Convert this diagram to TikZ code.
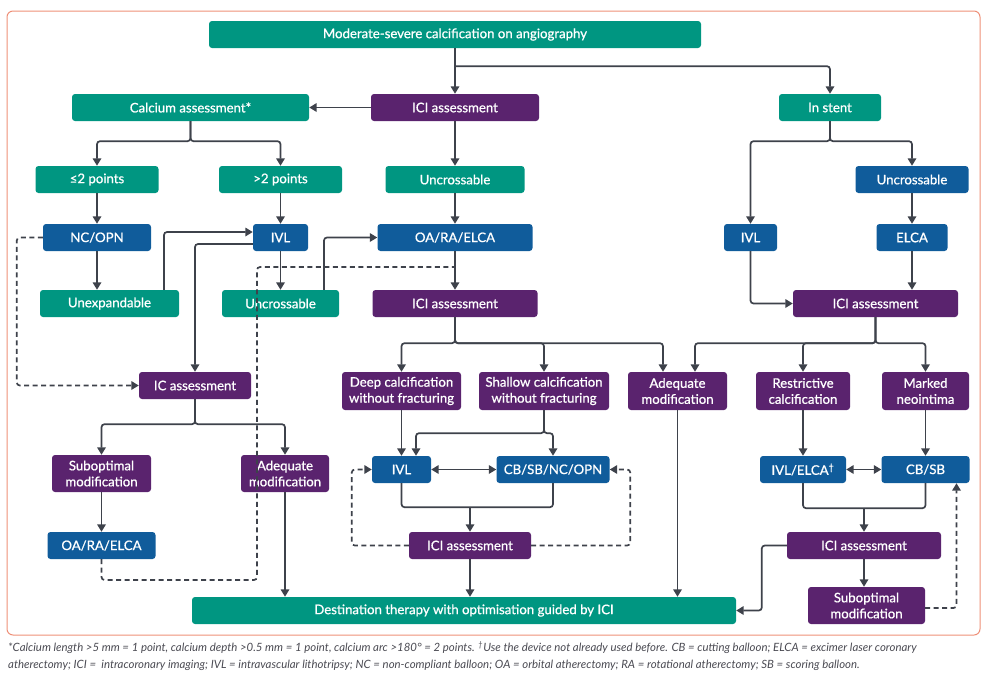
\documentclass[tikz,border=0pt]{standalone}
\usepackage{fontspec}
\setmainfont{Lato}
\newfontfamily\boxfont{Lato}[FakeBold=0.8]
\usepackage{tikz}
\usetikzlibrary{arrows.meta}
\definecolor{tealbox}{HTML}{009681}
\definecolor{purplebox}{HTML}{5A236E}
\definecolor{bluebox}{HTML}{105C9B}
\definecolor{linegray}{HTML}{3E424B}
\definecolor{framecol}{HTML}{EE9078}
\definecolor{notegray}{HTML}{4A4A52}

\begin{document}
\begin{tikzpicture}[x=1pt,y=-1pt,
  box/.style={rounded corners=3pt,minimum height=27pt,inner sep=0pt,align=center,text=white,font=\boxfont\fontsize{13.2}{16}\selectfont},
  tbox/.style={box,fill=tealbox},
  pbox/.style={box,fill=purplebox},
  bbox/.style={box,fill=bluebox},
  arr/.style={draw=linegray,line width=1.7pt,rounded corners=3pt,-{Triangle[length=7.5pt,width=8.5pt]}},
  arrb/.style={draw=linegray,line width=1.7pt,{Triangle[length=7.5pt,width=8.5pt]}-{Triangle[length=7.5pt,width=8.5pt]}},
  lin/.style={draw=linegray,line width=1.7pt,rounded corners=3pt},
  dsh/.style={draw=linegray,line width=1.7pt,rounded corners=3pt,dash pattern=on 5pt off 3.5pt}]
\useasboundingbox (0,0) rectangle (989,681);
\draw[framecol,line width=1pt,rounded corners=6pt] (7,11) rectangle (980,635);

% top rows
\node[tbox,minimum width=492pt] (top) at (455,34.5) {Moderate-severe calcification on angiography};
\node[pbox,minimum width=168pt] (ici1) at (455,107.5) {ICI assessment};
\node[tbox,minimum width=237pt] (calc) at (190.5,107.5) {Calcium assessment*};
\node[tbox,minimum width=102pt] (stent) at (830,107.5) {In stent};
\node[tbox,minimum width=123pt] (le2) at (97,179.5) {≤2 points};
\node[tbox,minimum width=123pt] (gt2) at (280.5,179.5) {>2 points};
\node[tbox,minimum width=139pt] (unc1) at (455,179.5) {Uncrossable};
\node[bbox,minimum width=113pt] (unc2) at (912,179.5) {Uncrossable};
\node[bbox,minimum width=108pt] (ncopn) at (97,237.5) {NC/OPN};
\node[bbox,minimum width=55pt] (ivl1) at (280.5,237.5) {IVL};
\node[bbox,minimum width=155pt] (oa1) at (455,237.5) {OA/RA/ELCA};
\node[bbox,minimum width=53pt] (ivl2) at (750.5,237.5) {IVL};
\node[bbox,minimum width=71pt] (elca) at (912,237.5) {ELCA};
\node[tbox,minimum width=139pt] (unexp) at (109.5,303.5) {Unexpandable};
\node[tbox,minimum width=117pt] (unc3) at (280.5,303.5) {Uncrossable};
\node[pbox,minimum width=165pt] (ici2) at (455,303.5) {ICI assessment};
\node[pbox,minimum width=165pt] (ici3) at (875.5,303.5) {ICI assessment};

% middle rows
\node[pbox,minimum width=112pt] (ic) at (195,385.5) {IC assessment};
\node[pbox,minimum width=119pt,minimum height=38pt] (deep) at (401.5,391) {Deep calcification\\without fracturing};
\node[pbox,minimum width=130pt,minimum height=38pt] (shallow) at (544,391) {Shallow calcification\\without fracturing};
\node[pbox,minimum width=99pt,minimum height=38pt] (adq1) at (677.5,391) {Adequate\\modification};
\node[pbox,minimum width=94pt,minimum height=38pt] (restr) at (803,391) {Restrictive\\calcification};
\node[pbox,minimum width=87pt,minimum height=38pt] (marked) at (925.5,391) {Marked\\neointima};
\node[pbox,minimum width=99pt,minimum height=37pt] (subopt1) at (101.5,473.5) {Suboptimal\\modification};
\node[pbox,minimum width=88pt,minimum height=37pt] (adq2) at (285,473.5) {Adequate\\modification};
\node[bbox,minimum width=59pt] (ivl3) at (401.5,469.5) {IVL};
\node[bbox,minimum width=113pt] (cbsb1) at (553,469.5) {CB/SB/NC/OPN};
\node[bbox,minimum width=86pt] (ivlelca) at (803,469.5) {IVL/ELCA\textsuperscript{†}};
\node[bbox,minimum width=88pt] (cbsb2) at (925.5,469.5) {CB/SB};

% bottom rows
\node[bbox,minimum width=108pt] (oa2) at (101.5,545.5) {OA/RA/ELCA};
\node[pbox,minimum width=122pt] (ici4) at (470,545.5) {ICI assessment};
\node[pbox,minimum width=154pt] (ici5) at (864,545.5) {ICI assessment};
\node[tbox,minimum width=544pt] (dest) at (464,610.5) {Destination therapy with optimisation guided by ICI};
\node[pbox,minimum width=117pt,minimum height=37pt] (subopt2) at (866.5,605.5) {Suboptimal\\modification};

\coordinate (d1) at (257,580);
\coordinate (j1) at (455,267);

% connectors
\draw[arr] (top.south) -- (ici1.north);
\draw[arr] (top.south) ++(0,18) -| (stent.north);
\draw[arr] (ici1.west) -- (calc.east);
\draw[arr] (ici1.south) -- (unc1.north);
\draw[arr] (calc.south) -- ++(0,20) -| (le2.north);
\draw[arr] (calc.south) -- ++(0,20) -| (gt2.north);
\draw[arr] (le2.south) -- (ncopn.north);
\draw[arr] (gt2.south) -- (ivl1.north);
\draw[arr] (unc1.south) -- (oa1.north);
\draw[arr] (ncopn.south) -- (ncopn.south |- unexp.north);
\draw[arr] ([xshift=54.5pt]unexp.north) |- ([yshift=5.5pt]ivl1.west);
\draw[arr] (ivl1.south) -- (unc3.north);
\draw[arr] ([xshift=43.5pt]unc3.north) |- (oa1.west);
\draw[arr] ([yshift=-6.5pt]ivl1.west) -| (ic.north);
\draw[arr] (oa1.south) -- (ici2.north);
\draw[dsh,-{Triangle[length=7.5pt,width=8.5pt]}] (ncopn.west) -- ++(-26,0) |- (ic.west);
\draw[dsh] (oa2.south) |- (d1) |- (j1);
\draw[arr] (stent.south) -- ++(0,20) -| (ivl2.north);
\draw[arr] (stent.south) -- ++(0,20) -| (unc2.north);
\draw[arr] (unc2.south) -- (elca.north);
\draw[arr] (elca.south) -- (elca.south |- ici3.north);
\draw[arr] (ivl2.south) |- (ici3.west);

\draw[arr] (ic.south) -- ++(0,25) -| (subopt1.north);
\draw[arr] (ic.south) -- ++(0,25) -| (adq2.north);
\draw[arr] (subopt1.south) -- (oa2.north);
\draw[arr] (adq2.south) -- (adq2.south |- dest.north);

\draw[arr] (ici2.south) -- ++(0,26) -| (deep.north);
\draw[arr] (ici2.south) -- ++(0,26) -| (shallow.north);
\draw[arr] (ici2.south) -- ++(0,26) -| ([xshift=-14.5pt]adq1.north);
\draw[arr] (ici3.south) -- ++(0,26) -| ([xshift=17.5pt]adq1.north);
\draw[arr] (ici3.south) -- ++(0,26) -| (restr.north);
\draw[arr] (ici3.south) -- ++(0,26) -| (marked.north);

\draw[arr] (deep.south) -- (ivl3.north);
\draw[arr] (shallow.south) -- ++(0,23) -| ([xshift=14.5pt]ivl3.north);
\draw[arr] (shallow.south) -- ++(0,23) -| (cbsb1.north);
\draw[arrb] (ivl3.east) -- (cbsb1.west);
\draw[lin] (ivl3.south) -- ++(0,24) -| (cbsb1.south);
\draw[arr] (ici4.north) ++(0,-25) -- (ici4.north);
\draw[arr] (ici4.south) -- (ici4.south |- dest.north);
\draw[dsh,-{Triangle[length=7.5pt,width=8.5pt]}] (ici4.west) -- ++(-57,0) |- (ivl3.west);
\draw[dsh,-{Triangle[length=7.5pt,width=8.5pt]}] (ici4.east) -- ++(99,0) |- (cbsb1.east);
\draw[arr] (adq1.south) -- (adq1.south |- dest.north);

\draw[arr] (restr.south) -- (ivlelca.north);
\draw[arr] (marked.south) -- (cbsb2.north);
\draw[arrb] (ivlelca.east) -- (cbsb2.west);
\draw[lin] (ivlelca.south) -- ++(0,25) -| (cbsb2.south);
\draw[arr] (ici5.north) ++(0,-24) -- (ici5.north);
\draw[arr] (ici5.west) -- ++(-25,0) |- (dest.east);
\draw[arr] (ici5.south) -- (ici5.south |- subopt2.north);
\draw[dsh,-{Triangle[length=7.5pt,width=8.5pt]}] ([yshift=-2.5pt]subopt2.east) -| ([xshift=31pt]cbsb2.south);

% footnote
\node[anchor=west,inner sep=0pt,text=notegray,font=\itshape\fontsize{11.4}{13}\selectfont] (fn1) at (8,648) {*Calcium length >5 mm = 1 point, calcium depth >0.5 mm = 1 point, calcium arc >180° = 2 points. \textsuperscript{†}Use the device not already used before. CB = cutting balloon; ELCA = excimer laser coronary};
\node[anchor=west,inner sep=0pt,text=notegray,font=\itshape\fontsize{11.4}{13}\selectfont] (fn2) at (8,665) {atherectomy; ICI = \ intracoronary imaging; IVL = intravascular lithotripsy; NC = non-compliant balloon; OA = orbital atherectomy; RA = rotational atherectomy; SB = scoring balloon.};
\end{tikzpicture}
\end{document}
